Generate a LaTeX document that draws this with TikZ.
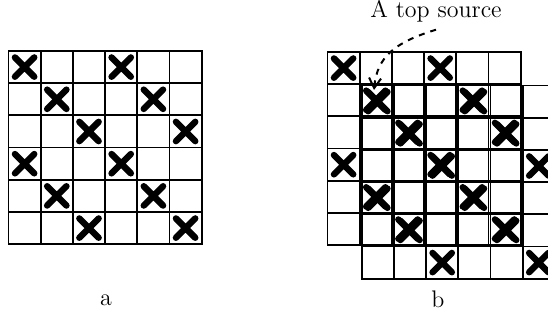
\documentclass[tikz,border=0pt]{standalone}
\usetikzlibrary{arrows.meta}

\tikzset{
  gridsec/.style={x=0.5pt,y=0.5pt,font=\large},
  cellline/.style={line width=0.9pt,line cap=rect},
  cross/.style={line width=3.2pt,line cap=round},
}

% 6x6 board with a cross on every third diagonal, #1,#2 = top left corner
\newcommand{\crossgrid}[2]{%
  \begin{scope}[shift={(#1,#2)},x=16.1pt,y=16.1pt]
    \foreach \i in {0,...,6}{
      \draw[cellline] (\i,0) -- (\i,-6);
      \draw[cellline] (0,-\i) -- (6,-\i);
    }
    \foreach \r in {0,...,5}
      \foreach \c in {0,...,5}{
        \pgfmathtruncatemacro{\k}{mod(\c-\r+6,3)}
        \ifnum\k=0
          \draw[cross] (\c+0.2,-\r-0.2) -- (\c+0.8,-\r-0.8)
                       (\c+0.8,-\r-0.2) -- (\c+0.2,-\r-0.8);
        \fi
      }
  \end{scope}}

\begin{document}
\begin{tikzpicture}[gridsec]
    \useasboundingbox (0,0) rectangle (548,320);
    % board a
    \crossgrid{8.5}{269}
    \node (lbla) at (106,20) {a};
    % board b: the same board, and a copy one cell down and right
    \crossgrid{327.5}{268}
    \crossgrid{361.7}{234.5}
    \node (lblb) at (438,21) {b};
    \node[anchor=base] (src) at (436,302) {A top source};
    \coordinate (target) at (374,230);
    \draw[line width=1pt,dashed,-{Straight Barb[length=5pt,width=6pt]}] (src.south) .. controls (396,278) and (377,264) .. (target);
\end{tikzpicture}
\end{document}
